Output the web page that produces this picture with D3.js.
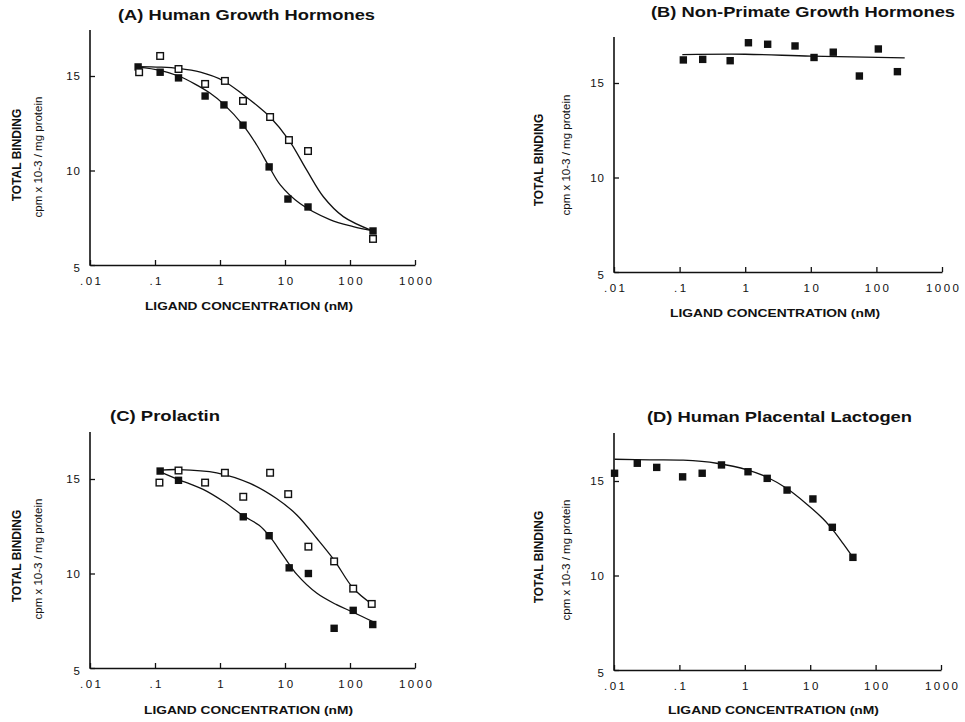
<!DOCTYPE html>
<html><head><meta charset="utf-8">
<script src="https://cdn.jsdelivr.net/npm/d3@7"></script>
<style>
body{margin:0;background:#fff}
text{font-family:"Liberation Sans",Arial,Helvetica,sans-serif;fill:#111}
</style>
</head><body>
<svg id="chart" width="965" height="722"></svg>
<script>
// ---------- shared axis data ----------
const xTicks=[0.01,0.1,1,10,100,1000];
const xTickLabels=[".01",".1","1","10","100","1000"];
const yTicks=[5,10,15];
const yTickLabels=["5","10","15"];
const titles=["(A) Human Growth Hormones","(B) Non-Primate Growth Hormones","(C) Prolactin","(D) Human Placental Lactogen"];
const xAxisTitle="LIGAND CONCENTRATION (nM)";
const yAxisTitle="TOTAL BINDING";
const yAxisSub="cpm x 10-3 / mg protein";

// ---------- (A) Human Growth Hormones ----------
const aFilledDose=[0.055,0.12,0.23,0.59,1.15,2.26,5.7,11.1,22.6,226];
const aFilledVal=[15.48,15.2,14.9,13.94,13.47,12.4,10.19,8.49,8.07,6.8];
const aOpenDose=[0.057,0.12,0.23,0.59,1.19,2.26,5.9,11.5,22.6,226];
const aOpenVal=[15.2,16.06,15.37,14.58,14.74,13.68,12.83,11.61,11.03,6.38];
const aFilledFitDose=[0.055,0.12,0.23,0.4,0.7,1.15,2.26,3.67,5.7,8.4,17,49,112,226];
const aFilledFitVal=[15.47,15.3,15.0,14.6,14.1,13.5,12.4,11.35,10.2,9.25,8.25,7.4,7.03,6.8];
const aOpenFitDose=[0.055,0.12,0.23,0.5,1.12,2.3,4,5.7,11.5,21.5,38.9,79,226];
const aOpenFitVal=[15.5,15.47,15.4,15.2,14.75,14.0,13.35,12.88,11.61,10.03,8.61,7.56,6.8];

// ---------- (B) Non-Primate Growth Hormones ----------
const bDose=[0.114,0.225,0.59,1.12,2.2,5.75,11.2,22,55,107,209];
const bVal=[16.22,16.25,16.18,17.13,17.05,16.96,16.35,16.63,15.37,16.8,15.6];
const bFitDose=[0.11,1,10,270];
const bFitVal=[16.5,16.52,16.42,16.33];

// ---------- (C) Prolactin ----------
const cFilledDose=[0.12,0.23,2.28,5.7,11.6,22.9,57,112,224];
const cFilledVal=[15.42,14.93,13.0,12.0,10.3,10.0,7.1,8.05,7.3];
const cOpenDose=[0.117,0.23,0.59,1.19,2.28,5.9,11.2,22.9,57,112,216];
const cOpenVal=[14.81,15.45,14.81,15.33,14.06,15.33,14.2,11.42,10.64,9.2,8.39];
const cFilledFitDose=[0.12,0.23,0.55,1.12,2.3,4,5.7,9.4,15.2,31,62,112,224];
const cFilledFitVal=[15.38,14.97,14.45,13.82,13.05,12.55,12.0,10.95,9.95,8.95,8.35,7.95,7.45];
const cOpenFitDose=[0.12,0.23,0.89,2.9,7.4,15.2,31,57,112,216];
const cOpenFitVal=[15.47,15.5,15.33,14.77,13.97,13.1,11.85,10.71,9.22,8.39];

// ---------- (D) Human Placental Lactogen ----------
const dDose=[0.0102,0.0227,0.045,0.112,0.223,0.44,1.12,2.2,4.43,11,21.8,45];
const dVal=[15.41,15.94,15.72,15.22,15.41,15.85,15.49,15.14,14.52,14.05,12.55,10.96];
const dFitDose=[0.0102,0.0355,0.114,0.37,1.12,2.2,4.4,8.7,15.7,22.3,31.7,45];
const dFitVal=[16.15,16.12,16.1,15.94,15.58,15.2,14.6,13.8,13.0,12.4,11.7,10.96];

// ---------- build ----------
const zip=(xs,ys)=>xs.map((x,i)=>({x:x,y:ys[i]}));
const panels=[
  {title:titles[0],
   points:[{d:zip(aFilledDose,aFilledVal),open:false},{d:zip(aOpenDose,aOpenVal),open:true}],
   fits:[zip(aFilledFitDose,aFilledFitVal),zip(aOpenFitDose,aOpenFitVal)]},
  {title:titles[1],
   points:[{d:zip(bDose,bVal),open:false}],
   fits:[zip(bFitDose,bFitVal)]},
  {title:titles[2],
   points:[{d:zip(cFilledDose,cFilledVal),open:false},{d:zip(cOpenDose,cOpenVal),open:true}],
   fits:[zip(cFilledFitDose,cFilledFitVal),zip(cOpenFitDose,cOpenFitVal)]},
  {title:titles[3],
   points:[{d:zip(dDose,dVal),open:false}],
   fits:[zip(dFitDose,dFitVal)]}
];

// layout (pixels)
const layout=[
 {x0:90,x1:415,yb:265,y15:76,top:30,tX:118,tY:20,tW:257,lX:145,lY:310,lW:208,y1X:21,y2X:42,y1Y:155,y2Y:157},
 {x0:614,x1:942,yb:272,y15:83,top:37,tX:651,tY:17,tW:304,lX:670,lY:317,lW:210,y1X:543,y2X:570,y1Y:160,y2Y:155},
 {x0:90,x1:415,yb:668,y15:479,top:432,tX:110,tY:421,tW:110,lX:144,lY:714,lW:209,y1X:21,y2X:42,y1Y:556,y2Y:559},
 {x0:614,x1:941,yb:670,y15:481,top:433,tX:647,tY:422,tW:265,lX:668,lY:714,lW:211,y1X:543,y2X:570,y1Y:557,y2Y:560}
];

const svg=d3.select("#chart");
const ink="#111";

panels.forEach((p,i)=>{
  const L=layout[i];
  const x=d3.scaleLog().domain([0.01,1000]).range([L.x0,L.x1]);
  const y=d3.scaleLinear().domain([5,15]).range([L.yb,L.y15]);
  const g=svg.append("g");

  // title
  g.append("text").attr("x",L.tX).attr("y",L.tY)
    .attr("font-size",15.5).attr("font-weight","bold")
    .attr("textLength",L.tW).attr("lengthAdjust","spacingAndGlyphs")
    .text(p.title);

  // x axis
  const xAxis=d3.axisBottom(x).tickValues(xTicks)
    .tickFormat((d,k)=>xTickLabels[k]).tickSizeInner(-5).tickSizeOuter(0).tickPadding(12);
  const xg=g.append("g").attr("transform",`translate(0,${L.yb})`).call(xAxis);
  xg.select(".domain").attr("stroke",ink).attr("stroke-width",1.6);
  xg.selectAll(".tick line").attr("stroke",ink).attr("stroke-width",1.3);
  xg.selectAll(".tick text").attr("font-size",11.5).attr("fill",ink)
    .attr("font-family","'Liberation Sans',Arial,sans-serif")
    .style("letter-spacing","2.5px").attr("dx","1.2px");

  // y axis
  const yAxis=d3.axisLeft(y).tickValues(yTicks)
    .tickFormat((d,k)=>yTickLabels[k]).tickSizeInner(-5).tickSizeOuter(0).tickPadding(9);
  const yg=g.append("g").attr("transform",`translate(${L.x0},0)`).call(yAxis);
  yg.select(".domain").remove();
  yg.selectAll(".tick line").attr("stroke",ink).attr("stroke-width",1.3);
  yg.selectAll(".tick text").attr("font-size",11.5).attr("fill",ink)
    .attr("font-family","'Liberation Sans',Arial,sans-serif")
    .style("letter-spacing","1px");
  yg.selectAll(".tick").filter(d=>d===5).select("text").attr("dy","0.55em");
  g.append("line").attr("x1",L.x0).attr("x2",L.x0).attr("y1",L.yb+0.8).attr("y2",L.top)
    .attr("stroke",ink).attr("stroke-width",1.6);

  // axis titles
  g.append("text").attr("x",L.lX).attr("y",L.lY)
    .attr("font-size",11.5).attr("font-weight","bold")
    .attr("textLength",L.lW).attr("lengthAdjust","spacingAndGlyphs")
    .text(xAxisTitle);
  g.append("text").attr("transform",`translate(${L.y1X},${L.y1Y}) rotate(-90)`)
    .attr("text-anchor","middle").attr("font-size",12).attr("font-weight","bold")
    .text(yAxisTitle);
  g.append("text").attr("transform",`translate(${L.y2X},${L.y2Y}) rotate(-90)`)
    .attr("text-anchor","middle").attr("font-size",11.5)
    .text(yAxisSub);

  // fitted curves
  const line=d3.line().x(d=>x(d.x)).y(d=>y(d.y)).curve(d3.curveCatmullRom.alpha(0.5));
  p.fits.forEach(f=>{
    g.append("path").attr("d",line(f)).attr("fill","none")
      .attr("stroke",ink).attr("stroke-width",1.3);
  });

  // markers
  p.points.forEach(s=>{
    if(s.open){
      g.selectAll(null).data(s.d).enter().append("rect")
        .attr("x",d=>x(d.x)-3.3).attr("y",d=>y(d.y)-3.3)
        .attr("width",6.6).attr("height",6.6)
        .attr("fill","#fff").attr("stroke",ink).attr("stroke-width",1.4);
    } else {
      g.selectAll(null).data(s.d).enter().append("rect")
        .attr("x",d=>x(d.x)-3.7).attr("y",d=>y(d.y)-3.7)
        .attr("width",7.4).attr("height",7.4)
        .attr("fill",ink);
    }
  });
});
</script>
</body></html>
